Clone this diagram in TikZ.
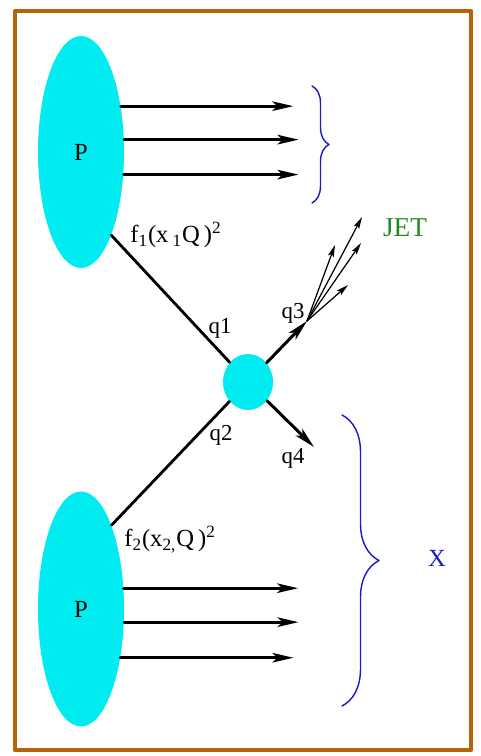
\documentclass[tikz,border=0pt]{standalone}
\usepackage{fontspec}
\setmainfont{Liberation Serif}
\usetikzlibrary{arrows.meta,shapes.geometric,decorations.pathreplacing}

\definecolor{protoncyan}{RGB}{0,236,240}
\definecolor{framebrown}{RGB}{184,98,10}
\definecolor{bracketblue}{RGB}{25,25,200}
\definecolor{jetgreen}{RGB}{30,140,30}

\begin{document}
\begin{tikzpicture}[x=1cm,y=1cm,line cap=round,line join=round,
        proton/.style={ellipse,fill=protoncyan,inner sep=0pt,minimum width=1.72cm,
            font=\fontsize{14}{16}\selectfont},
        remnant/.style={-{Stealth[length=0.42cm,width=0.19cm,inset=0.1cm]},line width=1.7pt},
        parton/.style={line width=1.6pt},
        hadron/.style={-{Stealth[length=0.24cm,width=0.12cm,inset=0.05cm]},line width=0.7pt},
        bracket/.style={bracketblue,line width=0.8pt,decorate,decoration={brace,amplitude=#1}},
        qlabel/.style={font=\fontsize{13}{15}\selectfont},
        pdflabel/.style={anchor=base west,inner sep=0pt,font=\fontsize{14}{16}\selectfont}]
        \useasboundingbox (0,0) rectangle (9.62,15.12);

        % Marco
        \draw[framebrown,line width=2pt] (0.295,0.115) rectangle (9.425,14.905);

        % Protones y vértice duro
        \node[proton,minimum height=4.64cm] (protA) at (1.62,12.08) {P};
        \node[proton,minimum height=4.70cm] (protB) at (1.62,2.94) {P};
        \node[ellipse,fill=protoncyan,inner sep=0pt,minimum width=1.0cm,minimum height=1.12cm]
            (blob) at (4.96,7.48) {};

        % Restos del protón superior
        \draw[remnant] (protA.49) -- ++(3.45,0);
        \draw[remnant] (protA.16) -- ++(3.49,0);
        \draw[remnant] (protA.-28) -- ++(3.50,0);

        % Restos del protón inferior
        \draw[remnant] (protB.26) -- ++(3.49,0);
        \draw[remnant] (protB.-17) -- ++(3.49,0);
        \draw[remnant] (protB.-51) -- ++(3.46,0);

        % Llaves
        \draw[bracket=0.34cm] (6.24,13.40) -- (6.24,11.06);
        \draw[bracket=0.74cm] (6.84,6.82) -- (6.84,1.00);

        % Partones entrantes y salientes
        \draw[parton] (protA.-70) -- (blob);
        \draw[parton] (protB.70) -- (blob);
        \coordinate (jetbase) at (6.14,8.70);
        \coordinate (q4tip) at (6.28,6.18);
        \draw[remnant] (blob) -- (jetbase);
        \draw[remnant] (blob) -- (q4tip);

        % Chorro
        \coordinate (jetA) at (7.24,10.78);
        \coordinate (jetB) at (6.70,10.22);
        \coordinate (jetC) at (7.22,10.26);
        \coordinate (jetD) at (6.96,9.42);
        \draw[hadron] (jetbase) -- (jetA);
        \draw[hadron] (jetbase) -- (jetB);
        \draw[hadron] (jetbase) -- (jetC);
        \draw[hadron] (jetbase) -- (jetD);

        % Etiquetas
        \node[qlabel] (lq1) at (4.40,8.56) {q1};
        \node[qlabel] (lq2) at (4.42,6.42) {q2};
        \node[qlabel] (lq3) at (5.86,8.86) {q3};
        \node[qlabel] (lq4) at (5.86,5.96) {q4};
        \node[pdflabel] (lfA) at (2.60,10.26)
            {f\textsubscript{1}(x\,\textsubscript{1}Q\,)\textsuperscript{2}};
        \node[pdflabel] (lfB) at (2.48,4.18)
            {f\textsubscript{2}(x\textsubscript{2,}Q\,)\textsuperscript{2}};
        \node[jetgreen,font=\fontsize{15.5}{17}\selectfont] (ljet) at (8.10,10.56) {JET};
        \node[bracketblue,font=\fontsize{14}{16}\selectfont] (lx) at (8.74,3.96) {X};
    \end{tikzpicture}
\end{document}
